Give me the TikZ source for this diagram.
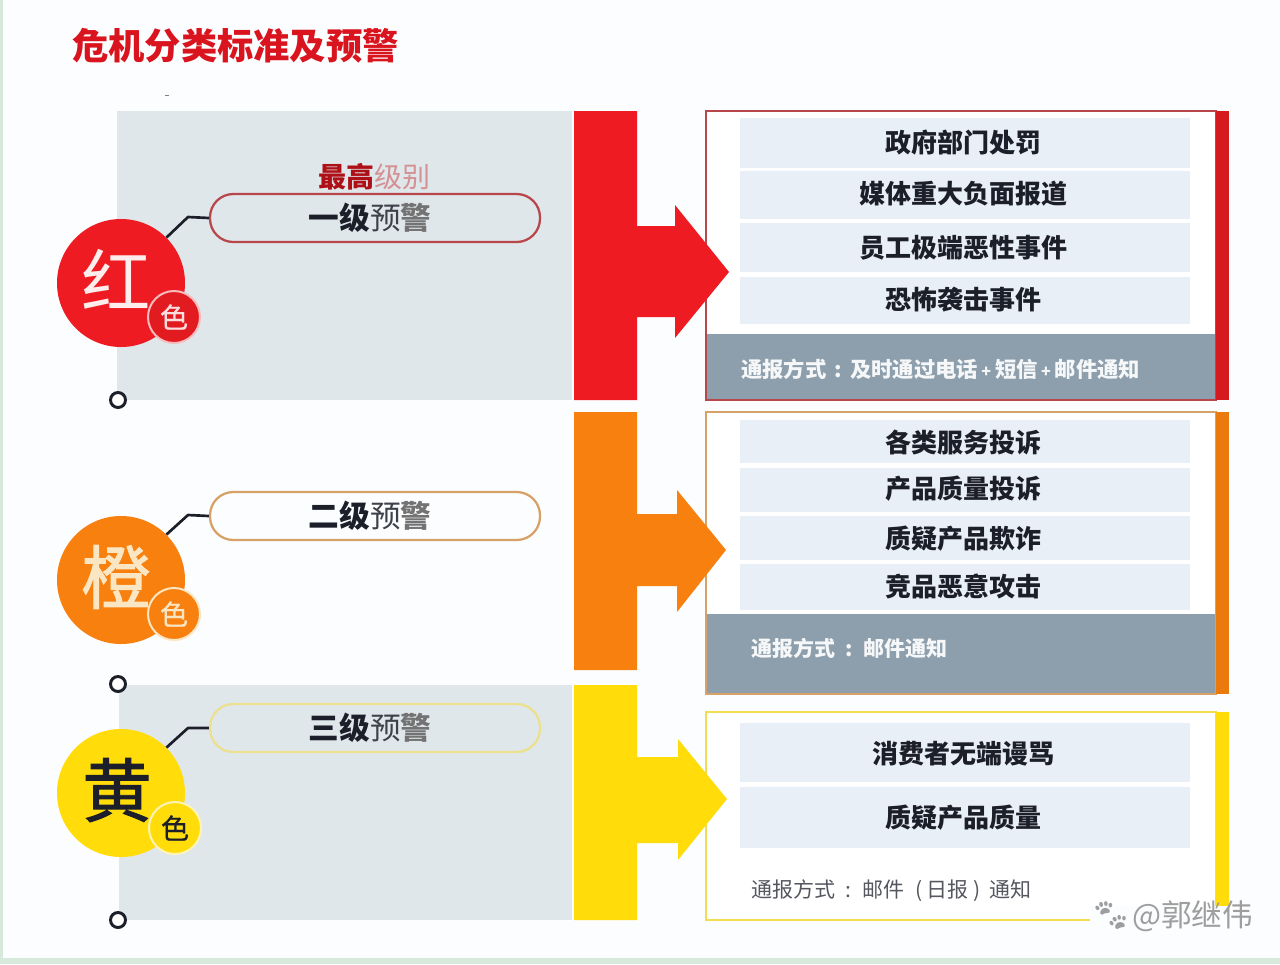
\documentclass[tikz,border=0pt]{standalone}
\usepackage{fontspec}
\setmainfont{Noto Sans CJK SC}
\newfontfamily\emojifont{Noto Emoji}
\newfontfamily\medfont[FakeBold=0.7]{Noto Sans CJK SC}
\newfontfamily\heavyfont[FakeBold=1.4]{Noto Sans CJK SC}
\usetikzlibrary{calc}
\definecolor{pagebg}{HTML}{FCFDFE}
\definecolor{edgegreen}{HTML}{D6E9DA}
\definecolor{panelgrey}{HTML}{E0E7EA}
\definecolor{rowblue}{HTML}{E9EFF6}
\definecolor{bargrey}{HTML}{8D9FAC}
\definecolor{cred}{HTML}{EE1C22}
\definecolor{corange}{HTML}{F7800F}
\definecolor{cyellow}{HTML}{FFDC0A}
\definecolor{framered}{HTML}{B8474B}
\definecolor{frameorange}{HTML}{D6A268}
\definecolor{frameyellow}{HTML}{F2DC50}
\definecolor{titlered}{HTML}{D9141E}
\definecolor{ink}{HTML}{1C1F2A}
\definecolor{cream}{HTML}{FBE6C4}
\tikzset{
  x=0.75pt,y=-0.75pt,
  panel/.style={fill=panelgrey,draw=none},
  bigdot/.style={circle,minimum size=128*0.75pt,inner sep=0pt},
  smalldot/.style={circle,minimum size=52*0.75pt,inner sep=0pt,line width=1.5pt,font=\fontsize{21}{21}\medfont},
  ring/.style={circle,draw=ink,fill=white,line width=2.2pt,minimum size=15*0.75pt,inner sep=0pt},
  pill/.style={rounded corners=17.5pt,line width=1.7pt,minimum width=330*0.75pt,minimum height=48*0.75pt,inner sep=0pt},
  link/.style={draw=ink,line width=2pt,line join=round},
  rowbox/.style={fill=rowblue,minimum width=450*0.75pt,inner sep=0pt,text=ink,font=\fontsize{19.5}{19.5}\selectfont\bfseries},
  bartext/.style={text=white!92!bargrey,inner sep=0pt,anchor=west,font=\fontsize{16}{16}\selectfont\bfseries},
  levelword/.style={inner sep=0pt,font=\fontsize{23}{23}\selectfont,text=ink},
}
\newcommand{\levelname}[1]{{\bfseries #1}{\color{ink!85}预}{\bfseries\color{black!55}警}}
\newcommand{\smallplus}{\hspace{2.5pt}{\fontsize{12}{12}\selectfont +}\hspace{3pt}}
\begin{document}
\begin{tikzpicture}
\useasboundingbox (0,0) rectangle (1280,964);
\fill[pagebg] (0,0) rectangle (1280,964);
\fill[edgegreen] (0,0) rectangle (3,964);
\fill[edgegreen] (0,958) rectangle (1280,964);
\fill[black!50] (165,95) rectangle (169,96);

\node[inner sep=0pt,anchor=west,text=titlered,font=\fontsize{27.2}{27.2}\selectfont\bfseries] (title) at (72,46) {危机分类标准及预警};

% grey panels
\fill[panel] (117,111) rectangle (572,400);
\fill[panel] (119,685) rectangle (572,920);

% rings
\node[ring] (r1) at (118,400) {};
\node[ring] (r2) at (118,684) {};
\node[ring] (r3) at (118,920) {};

% red level
\node[bigdot,fill=cred] (c1) at (121,283) {};
\node[inner sep=0pt,text=white!92!cred,font=\fontsize{52}{52}\selectfont] (c1t) at (116,279) {红};
\node[smalldot,fill=cred!95!black,draw=white!70!cred,text=white!85!cred] (s1) at (174,317) {色};
\node[pill,draw=framered] (p1) at (375,218) {};
\node[levelword] (p1t) at (370,218) {\levelname{一级}};
\node[inner sep=0pt,font=\fontsize{21}{21}\selectfont] (top1) at (374,177) {{\bfseries\color{titlered!80!black}最高}{\color{framered!60}级别}};
\coordinate (b1) at (188,217);
\draw[link] (c1.45) -- (b1) -- (p1.west);

% orange level
\node[bigdot,fill=corange] (c2) at (121,580) {};
\node[inner sep=0pt,text=cream,font=\fontsize{52}{52}\heavyfont] (c2t) at (116,577) {橙};
\node[smalldot,fill=corange,draw=cream,text=cream] (s2) at (174,614) {色};
\node[pill,draw=frameorange,fill=pagebg] (p2) at (375,516) {};
\node[levelword] (p2t) at (370,516) {\levelname{二级}};
\coordinate (b2) at (188,515);
\draw[link] (c2.45) -- (b2) -- (p2.west);

% yellow level
\node[bigdot,fill=cyellow] (c3) at (121,793) {};
\node[inner sep=0pt,text=ink,font=\fontsize{52}{52}\heavyfont] (c3t) at (117,790) {黄};
\node[smalldot,fill=cyellow,draw=white!70!cyellow,text=ink] (s3) at (175,828) {色};
\node[pill,draw=frameyellow!60!panelgrey] (p3) at (375,728) {};
\node[levelword] (p3t) at (370,728) {\levelname{三级}};
\coordinate (b3) at (188,728);
\draw[link] (c3.45) -- (b3) -- (p3.west);

% red detail box
\draw[framered,line width=1.9pt,fill=white] (706,111) rectangle (1216,400);
\fill[cred!90!black] (1216,111) rectangle (1229,400);
\fill[bargrey] (707,334) rectangle (1215,399);
\node[rowbox,minimum height=50*0.75pt] (a1) at (965,143) {};
\node[rowbox,minimum height=48*0.75pt] (a2) at (965,195) {};
\node[rowbox,minimum height=49*0.75pt] (a3) at (965,247.5) {};
\node[rowbox,minimum height=47*0.75pt] (a4) at (965,300.5) {};
\node[rowbox,fill=none] (a1t) at (963,143) {政府部门处罚};
\node[rowbox,fill=none] (a2t) at (963,194) {媒体重大负面报道};
\node[rowbox,fill=none] (a3t) at (963,248) {员工极端恶性事件};
\node[rowbox,fill=none] (a4t) at (963,300) {恐怖袭击事件};
\node[bartext] (n1) at (741,369) {通报方式\hspace{6pt}:\hspace{6pt}及时通过电话\smallplus 短信\smallplus 邮件通知};

% orange detail box
\draw[frameorange,line width=1.9pt,fill=white] (706,412) rectangle (1216,694);
\fill[corange!95!black] (1216,412) rectangle (1229,694);
\fill[bargrey] (707,614) rectangle (1215,693);
\node[rowbox,minimum height=43*0.75pt] (b1r) at (965,441.5) {};
\node[rowbox,minimum height=44*0.75pt] (b2r) at (965,490) {};
\node[rowbox,minimum height=44*0.75pt] (b3r) at (965,538) {};
\node[rowbox,minimum height=46*0.75pt] (b4r) at (965,587) {};
\node[rowbox,fill=none] (b1t) at (963,442) {各类服务投诉};
\node[rowbox,fill=none] (b2t) at (963,489) {产品质量投诉};
\node[rowbox,fill=none] (b3t) at (963,539) {质疑产品欺诈};
\node[rowbox,fill=none] (b4t) at (963,586) {竞品恶意攻击};
\node[bartext,font=\fontsize{15.75}{15.75}\selectfont\bfseries] (n2) at (751,648) {通报方式\hspace{8pt}:\hspace{8pt}邮件通知};

% yellow detail box
\draw[frameyellow,line width=1.9pt,fill=white] (706,712) rectangle (1216,920);
\fill[cyellow] (1216,712) rectangle (1229,920);
\node[rowbox,minimum height=59*0.75pt] (c1r) at (965,752.5) {};
\node[rowbox,minimum height=61*0.75pt] (c2r) at (965,817.5) {};
\node[rowbox,fill=none] (c1rt) at (963,754) {消费者无端谩骂};
\node[rowbox,fill=none] (c2rt) at (963,818) {质疑产品质量};
\node[inner sep=0pt,anchor=west,text=ink!75,font=\fontsize{15.75}{15.75}\selectfont] (n3) at (751,891) {通报方式\hspace{8pt}:\hspace{8pt}邮件\hspace{8pt}(\hspace{3pt}日报\hspace{4pt})\hspace{7pt}通知};

% arrows on top of the boxes
\fill[cred] (574,111) -- (637,111) -- (637,226) -- (675,226) -- (675,205) -- (729,272) -- (675,338) -- (675,317) -- (637,317) -- (637,400) -- (574,400) -- cycle;
\fill[corange] (574,412) -- (637,412) -- (637,514) -- (677,514) -- (677,490) -- (726,550) -- (677,612) -- (677,586) -- (637,586) -- (637,670) -- (574,670) -- cycle;
\fill[cyellow] (574,685) -- (637,685) -- (637,757) -- (678,757) -- (678,739) -- (727,799) -- (678,860) -- (678,843) -- (637,843) -- (637,920) -- (574,920) -- cycle;

% watermark
\node[inner xsep=0pt,inner ysep=0pt,text height=15pt,text depth=3pt,anchor=west,fill=pagebg,text=black!38,font=\fontsize{23}{23}\selectfont] (wm) at (1090,918) {{\emojifont\fontsize{24}{24}\selectfont\symbol{"1F43E}}\hspace{1pt}@郭继伟};
\end{tikzpicture}
\end{document}
